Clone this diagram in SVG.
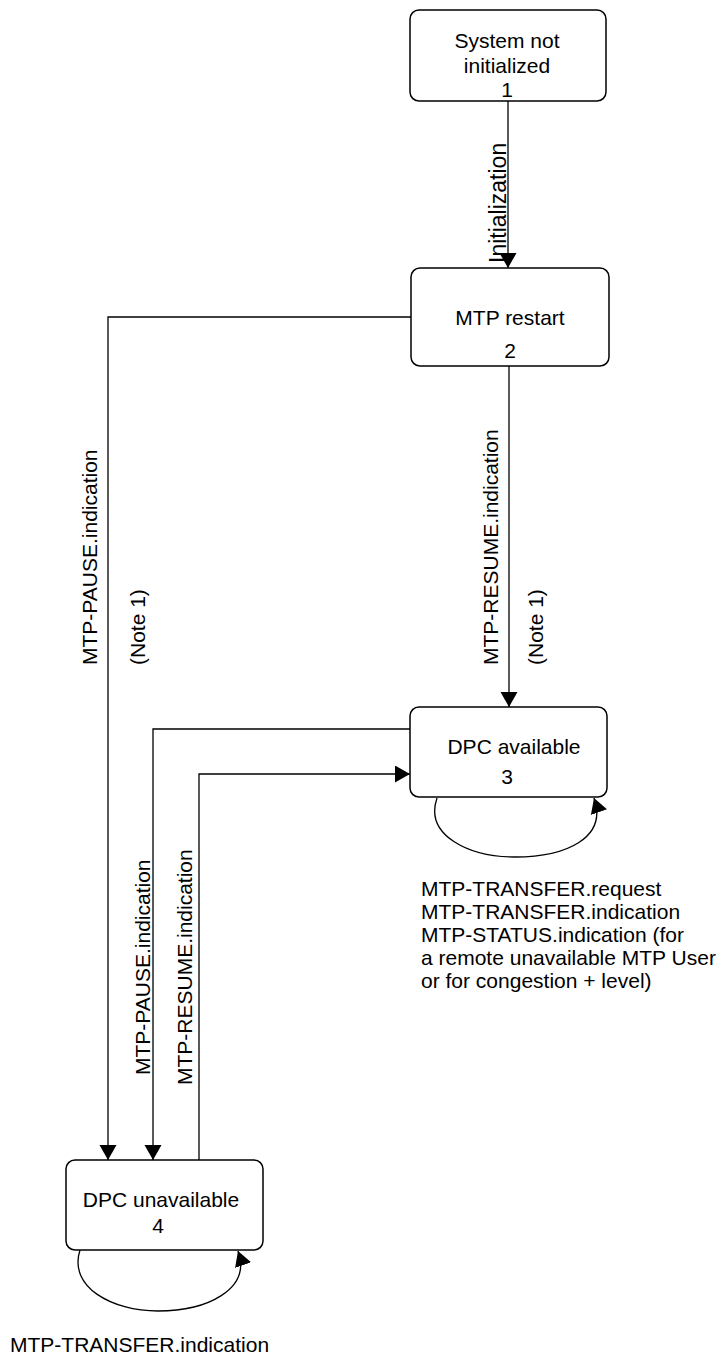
<svg xmlns="http://www.w3.org/2000/svg" width="721" height="1361" viewBox="0 0 721 1361">
<style>
text{font-family:"Liberation Sans",Arial,sans-serif;font-size:21px;fill:#000}
.c{text-anchor:middle}
.box{fill:#fff;stroke:#000;stroke-width:1.5}
.ln{fill:none;stroke:#000;stroke-width:1.3}
</style>
<defs>
<marker id="ah" markerUnits="userSpaceOnUse" markerWidth="16" markerHeight="18" refX="15" refY="8.5" orient="auto">
<path d="M0,0 L15,8.5 L0,17 z" fill="#000"/>
</marker>
</defs>
<rect width="721" height="1361" fill="#fff"/>
<g id="connectors">
<path class="ln" d="M508,101 L508,268" marker-end="url(#ah)"/>
<path class="ln" d="M411,317 L108,317 L108,1160" marker-end="url(#ah)"/>
<path class="ln" d="M509,366 L509,707" marker-end="url(#ah)"/>
<path class="ln" d="M410,729 L153,729 L153,1160" marker-end="url(#ah)"/>
<path class="ln" d="M199,1160 L199,774 L410,774" marker-end="url(#ah)"/>
<path class="ln" d="M437,798 C424,836 470,857 515,857 C566,857 608,838 594,798" marker-end="url(#ah)"/>
<path class="ln" d="M80,1250 C68,1287 112,1311 158,1311 C206,1311 252,1290 238,1251" marker-end="url(#ah)"/>
<text transform="translate(506,263) rotate(-90)" style="font-size:23px">Initialization</text>
<text transform="translate(97,665) rotate(-90)">MTP-PAUSE.indication</text>
<text transform="translate(145,665) rotate(-90)">(Note 1)</text>
<text transform="translate(498,665) rotate(-90)">MTP-RESUME.indication</text>
<text transform="translate(543,665) rotate(-90)">(Note 1)</text>
<text transform="translate(150,1075) rotate(-90)">MTP-PAUSE.indication</text>
<text transform="translate(192,1085) rotate(-90)">MTP-RESUME.indication</text>
</g>
<g id="node1">
<rect class="box" x="410" y="10" width="196" height="91" rx="9"/>
<text class="c" x="507" y="48">System not</text>
<text class="c" x="507" y="73">initialized</text>
<text class="c" x="507" y="97">1</text>
</g>
<g id="node2">
<rect class="box" x="411" y="268" width="198" height="98" rx="9"/>
<text class="c" x="510" y="325">MTP restart</text>
<text class="c" x="510" y="358">2</text>
</g>
<g id="node3">
<rect class="box" x="410" y="707" width="197" height="90" rx="9"/>
<text class="c" x="514" y="754">DPC available</text>
<text class="c" x="507" y="784">3</text>
</g>
<g id="node4">
<rect class="box" x="66" y="1160" width="197" height="90" rx="9"/>
<text class="c" x="161" y="1207">DPC unavailable</text>
<text class="c" x="158" y="1233">4</text>
</g>
<g id="labels">
<text x="421" y="896">MTP-TRANSFER.request</text>
<text x="421" y="919">MTP-TRANSFER.indication</text>
<text x="421" y="942">MTP-STATUS.indication (for</text>
<text x="421" y="965">a remote unavailable MTP User</text>
<text x="421" y="988">or for congestion + level)</text>
<text x="10" y="1352">MTP-TRANSFER.indication</text>
</g>
</svg>
